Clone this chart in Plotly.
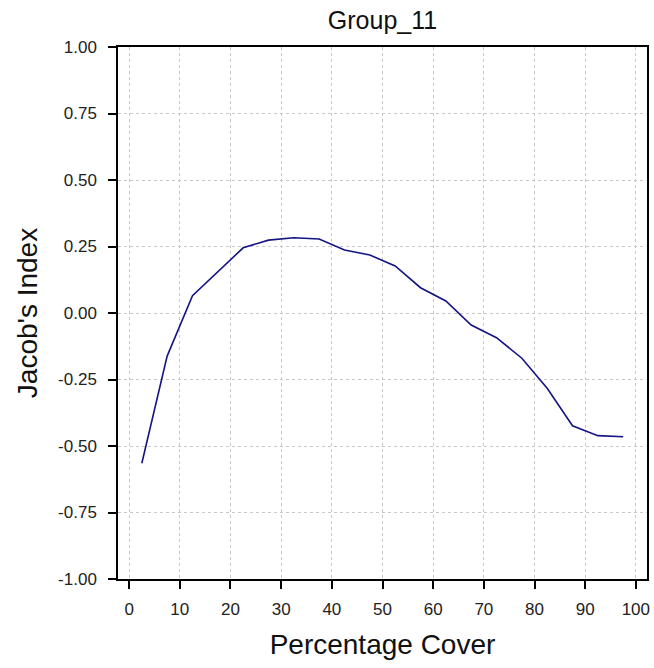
import plotly.graph_objects as go

cover = [2.5, 7.5, 12.5, 17.5, 22.5, 27.5, 32.5, 37.5, 42.5, 47.5,
         52.5, 57.5, 62.5, 67.5, 72.5, 77.5, 82.5, 87.5, 92.5, 97.5]
jacobs = [-0.565, -0.162, 0.065, 0.155, 0.245, 0.274, 0.283, 0.278, 0.237, 0.218,
          0.177, 0.095, 0.045, -0.045, -0.093, -0.170, -0.283, -0.424, -0.461, -0.465]

x_ticks = list(range(0, 101, 10))
y_ticks = [-1.0, -0.75, -0.5, -0.25, 0.0, 0.25, 0.5, 0.75, 1.0]
y_labels = ["%.2f" % v for v in y_ticks]

fig = go.Figure()
fig.add_trace(go.Scatter(x=cover, y=jacobs, mode="lines",
                         line=dict(color="#141485", width=1.6), showlegend=False))

font = "Liberation Sans, Arial, sans-serif"
axis_common = dict(showline=True, linecolor="black", linewidth=1.5, mirror=True,
                   ticks="outside", ticklen=8, tickwidth=1.5, tickcolor="black",
                   showgrid=True, gridcolor="#c8c8c8", griddash="dot", gridwidth=1,
                   zeroline=False, tickfont=dict(family=font, size=17, color="#222"))

fig.update_layout(
    width=654, height=668,
    margin=dict(l=118, r=4, t=47, b=89),
    paper_bgcolor="white", plot_bgcolor="white",
    title=dict(text="Group_11", xref="paper", x=0.5, xanchor="center",
               yref="container", y=0.970, yanchor="middle",
               font=dict(family=font, size=25, color="#111")),
    xaxis=dict(range=[-2.2, 102.2], tickvals=x_ticks, ticklabelstandoff=6,
               title=dict(text="Percentage Cover", standoff=16,
                          font=dict(family=font, size=28, color="#111")),
               **axis_common),
    yaxis=dict(range=[-1, 1], tickvals=y_ticks, ticktext=y_labels, ticklabelstandoff=8,
               title=dict(text="Jacob's Index", standoff=12,
                          font=dict(family=font, size=28, color="#111")),
               **axis_common),
)

fig.write_html("out.html")
